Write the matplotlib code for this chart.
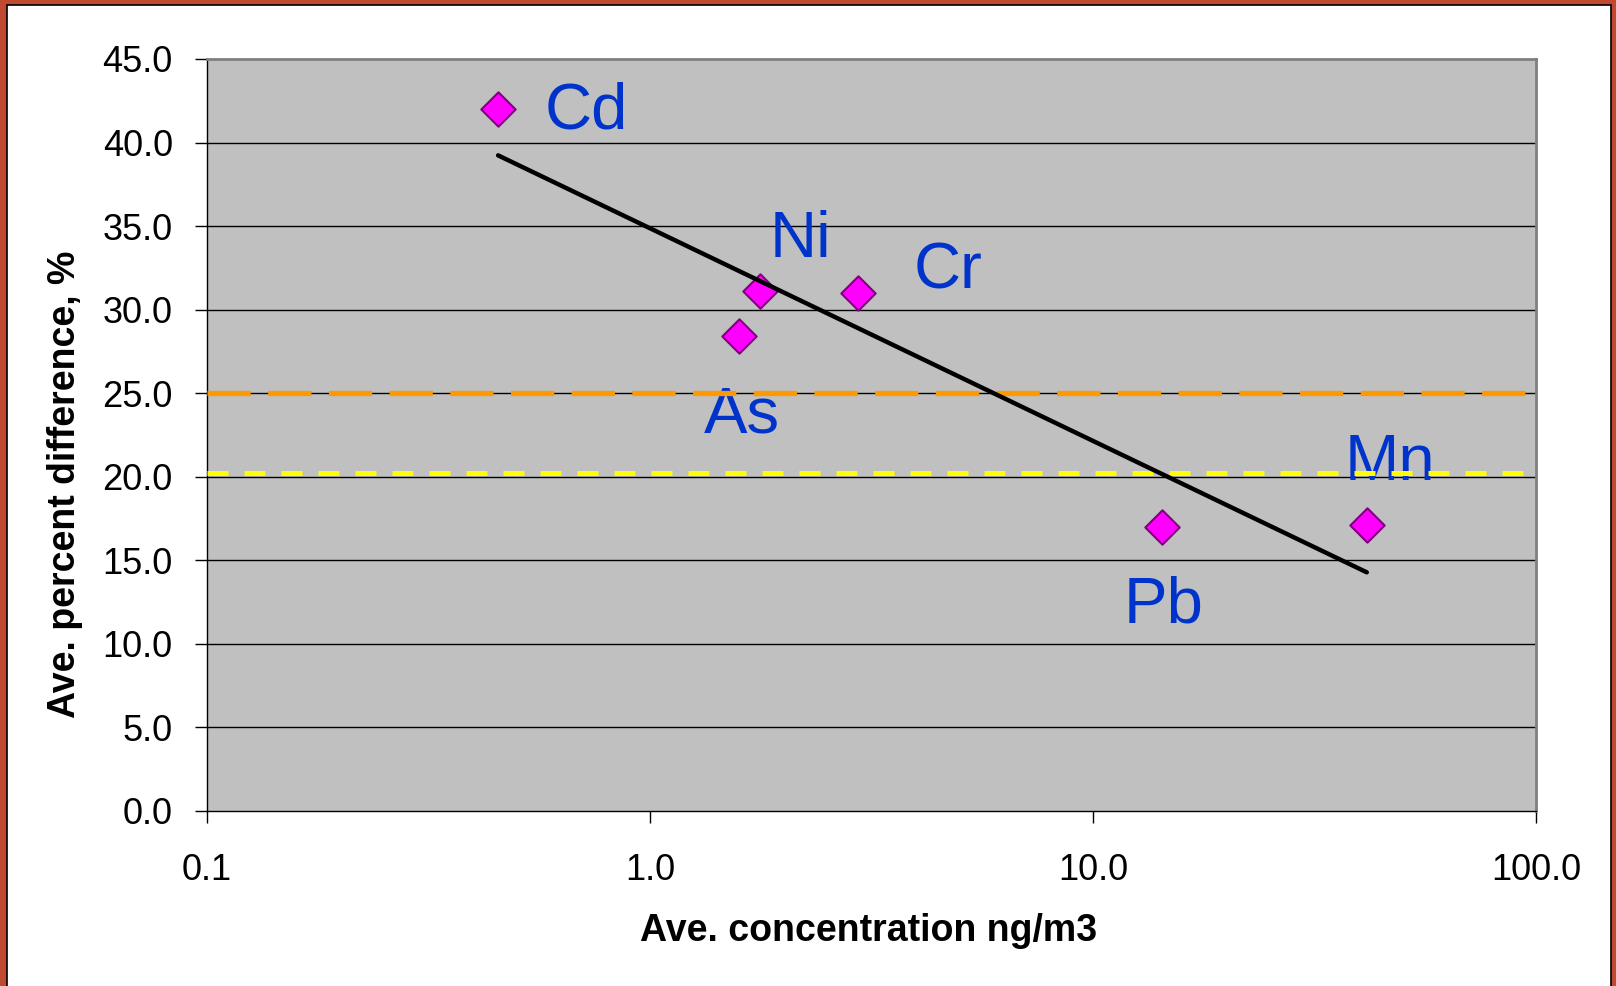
import numpy as np
import matplotlib
matplotlib.use("Agg")
import matplotlib.pyplot as plt
from matplotlib.patches import Rectangle

# data
elements = ["Cd", "Ni", "As", "Cr", "Pb", "Mn"]
conc = [0.454, 1.77, 1.59, 2.95, 14.3, 41.5]        # ng/m3
pct_diff = [42.0, 31.1, 28.4, 31.0, 17.0, 17.1]     # %
ref_levels = [25.0, 20.25]
xticks = [0.1, 1.0, 10.0, 100.0]
xtick_labels = ["0.1", "1.0", "10.0", "100.0"]
yticks = np.arange(0, 45.1, 5)

plt.rcParams["font.family"] = ["Liberation Sans", "DejaVu Sans"]

W, H = 1616, 986
fig = plt.figure(figsize=(W / 100, H / 100), dpi=100)
fig.patch.set_facecolor("#BF4A30")
fig.add_artist(Rectangle((7 / W, -0.01), (1611 - 7) / W, (H - 5) / H + 0.01,
                         transform=fig.transFigure, facecolor="white",
                         edgecolor="black", lw=1.2, zorder=-1))

ax = fig.add_axes([207 / W, (H - 811) / H, 1329 / W, 752 / H])
ax.set_facecolor("#C0C0C0")
ax.set_xscale("log")
ax.set_xlim(0.1, 100)
ax.set_ylim(0, 45)

for y in yticks[1:-1]:
    ax.axhline(y, color="black", lw=1, zorder=1)

ax.scatter(conc, pct_diff, marker="D", s=17.5 ** 2, facecolor="#FF00FF",
           edgecolor="#800080", linewidth=1.5, zorder=3)

# log trendline
b, a = np.polyfit(np.log10(conc), pct_diff, 1)
xt = np.logspace(np.log10(min(conc)), np.log10(max(conc)), 50)
ax.plot(xt, a + b * np.log10(xt), color="black", lw=3.2, zorder=6,
        solid_capstyle="round")

ax.axhline(ref_levels[0], color="#FF9900", lw=3.8, dashes=(8.2, 3.3),
           dash_capstyle="butt", zorder=5)
ax.axhline(ref_levels[1], color="#FFFF00", lw=3.6, dashes=(4.2, 3.2),
           dash_capstyle="butt", zorder=5)

offsets = {"Cd": (47, -19), "Ni": (10, 34), "As": (-35, -96),
           "Cr": (55, 4), "Pb": (-38, -96), "Mn": (-22, 45)}
for el, xv, yv in zip(elements, conc, pct_diff):
    ax.annotate(el, (xv, yv), xytext=offsets[el], textcoords="offset pixels",
                ha="left", va="baseline", fontsize=47, color="#0033CC",
                zorder=4)

ax.set_xticks(xticks)
ax.set_xticklabels(xtick_labels)
ax.xaxis.set_minor_locator(matplotlib.ticker.NullLocator())
ax.set_yticks(yticks)
ax.set_yticklabels(["%.1f" % v for v in yticks])
ax.tick_params(axis="both", direction="out", length=8.6, width=1,
               labelsize=26, pad=16)
ax.tick_params(axis="x", pad=21.5)

for s in ["top", "right"]:
    ax.spines[s].set_color("#808080")
    ax.spines[s].set_linewidth(2)
for s in ["left", "bottom"]:
    ax.spines[s].set_color("black")
    ax.spines[s].set_linewidth(1)

ax.text(0.498, -0.16, "Ave. concentration ng/m3", transform=ax.transAxes,
        ha="center", va="center", fontsize=27, fontweight="bold")
ax.text(-0.107, 0.435, "Ave. percent difference, %", transform=ax.transAxes,
        ha="center", va="center", rotation=90, fontsize=27, fontweight="bold")

fig.savefig("out.png", dpi=100, facecolor=fig.get_facecolor())
